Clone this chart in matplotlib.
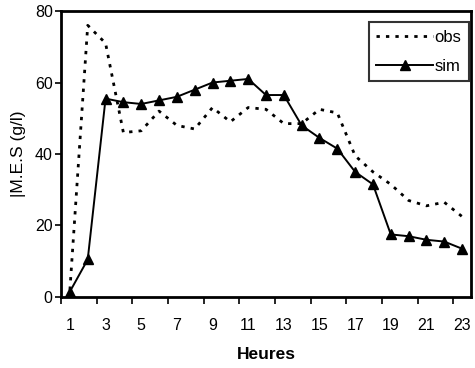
import matplotlib
matplotlib.use("Agg")
import matplotlib.pyplot as plt

heures = list(range(1, 24))
obs = [2, 76, 71, 46, 46.5, 52, 48, 47, 53, 49, 53, 52.5, 48.5, 48.5,
       52.5, 51.5, 39.5, 35, 31.5, 27, 25.5, 26.5, 22.5]
sim = [1.5, 10.5, 55.5, 54.5, 54, 55, 56, 58, 60, 60.5, 61, 56.5, 56.5,
       48, 44.5, 41.5, 35, 31.5, 17.5, 17, 16, 15.5, 13.5]
labels_x = [str(h) for h in heures[::2]]

plt.rcParams["font.family"] = ["Liberation Sans", "DejaVu Sans"]

fig = plt.figure(figsize=(4.75, 3.68), dpi=100)
ax = fig.add_axes([0.1284, 0.193, 0.8632, 0.777])

ax.plot(heures, obs, color="black", linestyle=(0, (1.2, 2.2)), linewidth=2,
        label="obs")
ax.plot(heures, sim, color="black", linestyle="-", linewidth=1.4,
        marker="^", markersize=7, label="sim")

ax.set_xlim(0.5, 23.5)
ax.set_ylim(0, 80)
ax.set_yticks([0, 20, 40, 60, 80])

# axe de categories facon Excel : traits entre categories, etiquettes au centre
ax.set_xticks([h - 0.5 for h in heures[::2]])
ax.set_xticklabels([])
ax.set_xticks(heures[::2], minor=True)
ax.set_xticklabels(labels_x, minor=True)
ax.tick_params(axis="x", which="major", length=5, width=1.2, direction="out")
ax.tick_params(axis="x", which="minor", length=0, pad=15, labelsize=11.5)
ax.tick_params(axis="y", length=4, width=1.2, pad=2, labelsize=11.5)

for s in ax.spines.values():
    s.set_linewidth(2)

ax.set_xlabel("Heures", fontweight="bold", fontsize=12.5, labelpad=10)
ax.set_ylabel("|M.E.S (g/l)", fontsize=12.5, labelpad=6)

leg = ax.legend(loc="upper right", fontsize=12, frameon=True, fancybox=False,
                edgecolor="black", handlelength=3.4, handletextpad=0.1,
                bbox_to_anchor=(469 / 475, 1 - 22 / 368),
                bbox_transform=fig.transFigure, borderaxespad=0,
                borderpad=0.45, labelspacing=0.85)
leg.get_frame().set_linewidth(1.5)

fig.savefig("out.png", dpi=100)
